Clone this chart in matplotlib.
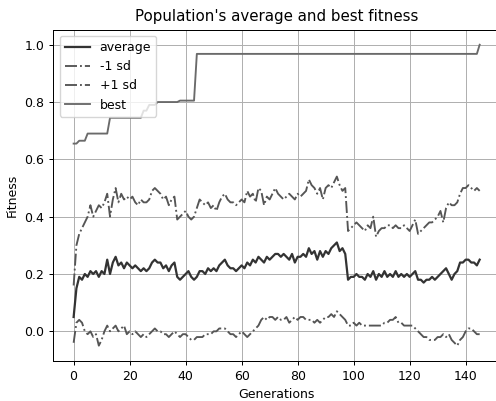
import numpy as np
import matplotlib
matplotlib.use("Agg")
import matplotlib.pyplot as plt

# fitness per generation
generations = np.arange(146)

average = [
    0.05, 0.15, 0.19, 0.18, 0.20, 0.19, 0.21, 0.20, 0.21, 0.19,
    0.21, 0.20, 0.25, 0.20, 0.24, 0.26, 0.23, 0.24, 0.22, 0.24,
    0.23, 0.22, 0.23, 0.22, 0.21, 0.22, 0.21, 0.22, 0.24, 0.25,
    0.24, 0.24, 0.22, 0.23, 0.21, 0.23, 0.24, 0.19, 0.18, 0.19,
    0.20, 0.21, 0.19, 0.18, 0.19, 0.21, 0.21, 0.20, 0.22, 0.21,
    0.22, 0.21, 0.23, 0.24, 0.25, 0.23, 0.22, 0.22, 0.21, 0.22,
    0.23, 0.22, 0.24, 0.23, 0.25, 0.24, 0.26, 0.25, 0.24, 0.26,
    0.25, 0.26, 0.27, 0.27, 0.26, 0.27, 0.26, 0.25, 0.27, 0.24,
    0.26, 0.26, 0.27, 0.26, 0.29, 0.27, 0.28, 0.25, 0.28, 0.26,
    0.28, 0.27, 0.29, 0.30, 0.31, 0.28, 0.29, 0.27, 0.18, 0.19,
    0.19, 0.20, 0.19, 0.19, 0.18, 0.20, 0.19, 0.21, 0.18, 0.20,
    0.19, 0.21, 0.19, 0.20, 0.19, 0.21, 0.19, 0.20, 0.19, 0.20,
    0.19, 0.20, 0.21, 0.18, 0.18, 0.17, 0.18, 0.18, 0.19, 0.18,
    0.19, 0.20, 0.21, 0.22, 0.20, 0.18, 0.20, 0.21, 0.24, 0.24,
    0.25, 0.25, 0.24, 0.24, 0.23, 0.25,
]

minus_sd = [
    -0.04, 0.03, 0.04, 0.03, 0.00, -0.01, 0.00, -0.02, -0.01, -0.05,
    -0.03, 0.00, 0.02, 0.00, 0.01, 0.02, 0.00, 0.01, 0.02, -0.01,
    0.00, -0.01, 0.00, -0.01, -0.02, -0.01, -0.02, -0.01, 0.00, 0.01,
    0.00, 0.00, -0.01, -0.01, -0.02, -0.01, 0.00, -0.01, -0.02, -0.01,
    -0.01, -0.02, -0.03, -0.03, -0.02, -0.02, -0.02, -0.01, -0.01, -0.01,
    0.00, 0.00, 0.01, 0.01, 0.01, 0.00, -0.01, -0.01, -0.02, -0.01,
    0.00, -0.01, -0.02, -0.01, 0.00, 0.01, 0.02, 0.04, 0.05, 0.04,
    0.05, 0.05, 0.04, 0.05, 0.04, 0.04, 0.05, 0.03, 0.04, 0.05,
    0.04, 0.05, 0.05, 0.04, 0.04, 0.04, 0.03, 0.04, 0.03, 0.04,
    0.05, 0.05, 0.06, 0.05, 0.07, 0.06, 0.05, 0.04, 0.02, 0.02,
    0.03, 0.02, 0.03, 0.02, 0.02, 0.02, 0.02, 0.02, 0.02, 0.02,
    0.02, 0.03, 0.03, 0.04, 0.04, 0.05, 0.03, 0.03, 0.02, 0.02,
    0.02, 0.02, 0.01, 0.00, -0.01, -0.02, -0.02, -0.03, -0.03, -0.03,
    -0.02, -0.02, -0.01, -0.02, -0.01, -0.03, -0.04, -0.05, -0.03, -0.02,
    0.00, 0.01, 0.01, 0.00, -0.01, -0.01,
]

plus_sd = [
    0.16, 0.30, 0.34, 0.36, 0.38, 0.40, 0.44, 0.40, 0.42, 0.44,
    0.43, 0.45, 0.48, 0.40, 0.46, 0.50, 0.45, 0.48, 0.46, 0.47,
    0.46, 0.47, 0.45, 0.44, 0.46, 0.45, 0.45, 0.46, 0.49, 0.50,
    0.49, 0.48, 0.46, 0.47, 0.44, 0.46, 0.47, 0.39, 0.40, 0.41,
    0.42, 0.40, 0.39, 0.40, 0.43, 0.46, 0.45, 0.44, 0.45, 0.43,
    0.44, 0.42, 0.45, 0.47, 0.48, 0.46, 0.45, 0.45, 0.44, 0.45,
    0.46, 0.45, 0.49, 0.47, 0.48, 0.45, 0.50, 0.49, 0.44, 0.47,
    0.46, 0.48, 0.50, 0.48, 0.47, 0.46, 0.47, 0.48, 0.47, 0.46,
    0.48, 0.47, 0.48, 0.49, 0.53, 0.51, 0.50, 0.48, 0.50, 0.46,
    0.50, 0.51, 0.50, 0.52, 0.54, 0.51, 0.49, 0.50, 0.35, 0.36,
    0.37, 0.38, 0.37, 0.36, 0.35, 0.37, 0.36, 0.40, 0.33, 0.35,
    0.36, 0.36, 0.37, 0.37, 0.36, 0.37, 0.36, 0.36, 0.37, 0.36,
    0.35, 0.37, 0.39, 0.34, 0.35, 0.36, 0.37, 0.38, 0.38, 0.39,
    0.40, 0.42, 0.38, 0.43, 0.45, 0.44, 0.44, 0.45, 0.48, 0.50,
    0.50, 0.51, 0.50, 0.49, 0.50, 0.49,
]

# best fitness only changes at a few generations: (first generation, value)
best_steps = [(0, 0.655), (2, 0.665), (5, 0.69), (13, 0.745), (25, 0.77),
              (27, 0.79), (30, 0.80), (38, 0.805), (44, 0.968), (145, 1.0)]

best = np.zeros(len(generations))
for start, val in best_steps:
    best[start:] = val

# reference looks like a default plot shrunk ~0.9x
plt.rcParams.update({
    "font.size": 9,
    "axes.linewidth": 0.72,
    "grid.linewidth": 0.72,
    "xtick.major.size": 3.15,
    "ytick.major.size": 3.15,
    "xtick.major.width": 0.72,
    "ytick.major.width": 0.72,
    "lines.linewidth": 1.35,
})

fig = plt.figure(figsize=(4.96, 4.01), dpi=100)
ax = fig.add_axes([0.1075, 0.1005, 0.9005, 0.8255])

ax.plot(generations, average, color="#333333", lw=1.6, label="average")
ax.plot(generations, minus_sd, color="#555555", ls="-.", label="-1 sd")
ax.plot(generations, plus_sd, color="#555555", ls="-.", label="+1 sd")
ax.plot(generations, best, color="#6a6a6a", label="best")

ax.set_title("Population's average and best fitness")
ax.set_xlabel("Generations")
ax.set_ylabel("Fitness")
ax.grid(True)
ax.legend(loc="upper left")

fig.savefig("out.png", dpi=100)
